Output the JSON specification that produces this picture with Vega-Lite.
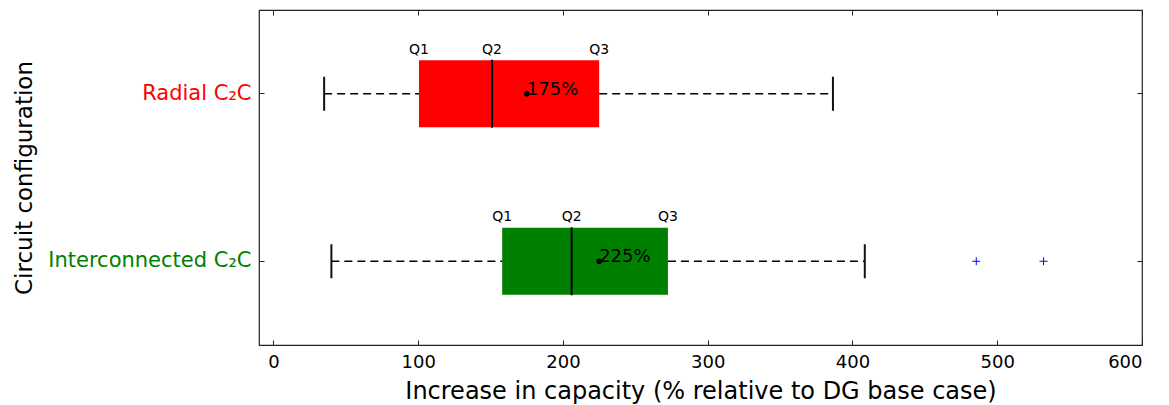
{
  "$schema": "https://vega.github.io/schema/vega-lite/v6.json",
  "width": 883,
  "height": 335,
  "autosize": {"type": "none"},
  "padding": {"left": 259, "top": 10, "right": 27, "bottom": 60},
  "background": "white",
  "config": {
    "font": "DejaVu Sans",
    "view": {"stroke": "#222", "strokeWidth": 1.2},
    "axis": {"domain": false, "grid": false, "tickColor": "#222", "labelColor": "black", "titleColor": "black", "labelFont": "DejaVu Sans", "titleFont": "DejaVu Sans", "titleFontWeight": "normal", "labelLimit": 0}
  },
  "datasets": {
    "boxes": [
      {"config": "Radial C₂C", "lo": 35, "Q1": 100.5, "Q2": 151, "Q3": 225, "hi": 386.5, "mean": 175, "meanLabel": "175%"},
      {"config": "Interconnected C₂C", "lo": 40, "Q1": 158, "Q2": 206, "Q3": 272.5, "hi": 408.5, "mean": 225, "meanLabel": "225%"}
    ],
    "outliers": [
      {"config": "Interconnected C₂C", "value": 485.5},
      {"config": "Interconnected C₂C", "value": 532}
    ]
  },
  "resolve": {"axis": {"x": "independent", "y": "independent"}},
  "layer": [
    {
      "data": {"name": "boxes"},
      "mark": {"type": "bar", "height": {"band": 0.4}},
      "encoding": {
        "x": {"field": "Q1", "type": "quantitative", "scale": {"domain": [-10, 600], "nice": false, "zero": false},
              "axis": {"orient": "bottom", "values": [0, 100, 200, 300, 400, 500, 600], "tickSize": -5, "labelPadding": 13, "labelFontSize": 18, "title": "Increase in capacity (% relative to DG base case)", "titleFontSize": 24, "titlePadding": 8}},
        "x2": {"field": "Q3"},
        "y": {"field": "config", "type": "nominal", "sort": ["Radial C₂C", "Interconnected C₂C"],
              "scale": {"type": "band", "domain": ["Radial C₂C", "Interconnected C₂C"], "paddingInner": 0, "paddingOuter": 0},
              "axis": {"orient": "left", "tickSize": -5, "labelPadding": 13, "labelFontSize": 21, "labelColor": {"expr": "datum.value == 'Radial C₂C' ? '#ff0000' : '#008000'"}, "title": "Circuit configuration", "titleFontSize": 23, "titlePadding": 23}},
        "color": {"field": "config", "type": "nominal", "scale": {"domain": ["Radial C₂C", "Interconnected C₂C"], "range": ["#ff0000", "#008000"]}, "legend": null}
      }
    },
    {
      "data": {"name": "boxes"},
      "mark": {"type": "rule", "color": "black", "strokeWidth": 1.4, "strokeDash": [8, 5]},
      "encoding": {
        "x": {"field": "lo", "type": "quantitative", "axis": {"orient": "top", "values": [0, 100, 200, 300, 400, 500, 600], "tickSize": -5, "labels": false, "title": null}},
        "x2": {"field": "Q1"},
        "y": {"field": "config", "type": "nominal", "axis": {"orient": "right", "tickSize": -5, "labels": false, "title": null}}
      }
    },
    {
      "data": {"name": "boxes"},
      "mark": {"type": "rule", "color": "black", "strokeWidth": 1.4, "strokeDash": [8, 5]},
      "encoding": {
        "x": {"field": "Q3", "type": "quantitative", "axis": null},
        "x2": {"field": "hi"},
        "y": {"field": "config", "type": "nominal", "axis": null}
      }
    },
    {
      "data": {"name": "boxes"},
      "transform": [{"fold": ["lo", "hi"], "as": ["end", "whisker"]}],
      "mark": {"type": "tick", "orient": "vertical", "color": "#111", "size": 34, "thickness": 2, "opacity": 1},
      "encoding": {
        "x": {"field": "whisker", "type": "quantitative", "axis": null},
        "y": {"field": "config", "type": "nominal", "axis": null}
      }
    },
    {
      "data": {"name": "boxes"},
      "mark": {"type": "tick", "orient": "vertical", "color": "black", "size": 68, "thickness": 2, "opacity": 1},
      "encoding": {
        "x": {"field": "Q2", "type": "quantitative", "axis": null},
        "y": {"field": "config", "type": "nominal", "axis": null}
      }
    },
    {
      "data": {"name": "boxes"},
      "mark": {"type": "circle", "color": "black", "size": 32, "opacity": 1},
      "encoding": {
        "x": {"field": "mean", "type": "quantitative", "axis": null},
        "y": {"field": "config", "type": "nominal", "axis": null}
      }
    },
    {
      "data": {"name": "boxes"},
      "mark": {"type": "text", "align": "left", "baseline": "alphabetic", "fontSize": 18, "color": "black", "dy": 1},
      "encoding": {
        "x": {"field": "mean", "type": "quantitative", "axis": null},
        "y": {"field": "config", "type": "nominal", "axis": null},
        "text": {"field": "meanLabel"}
      }
    },
    {
      "data": {"name": "boxes"},
      "transform": [{"fold": ["Q1", "Q2", "Q3"], "as": ["q", "qv"]}],
      "mark": {"type": "text", "align": "center", "baseline": "alphabetic", "fontSize": 14, "color": "black", "dy": -40},
      "encoding": {
        "x": {"field": "qv", "type": "quantitative", "axis": null},
        "y": {"field": "config", "type": "nominal", "axis": null},
        "text": {"field": "q"}
      }
    },
    {
      "data": {"name": "outliers"},
      "mark": {"type": "point", "shape": "M-1,0H1M0,-1V1", "filled": false, "stroke": "#0000ff", "strokeWidth": 1, "size": 64, "opacity": 1},
      "encoding": {
        "x": {"field": "value", "type": "quantitative", "axis": null},
        "y": {"field": "config", "type": "nominal", "axis": null}
      }
    }
  ]
}
